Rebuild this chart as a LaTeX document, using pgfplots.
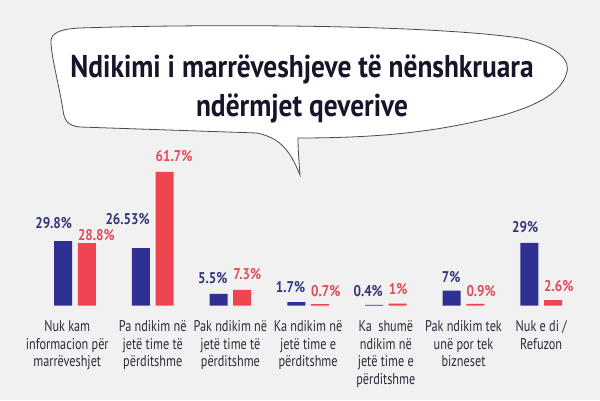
\documentclass[border=0pt]{standalone}
\usepackage{pgfplots}
\pgfplotsset{compat=1.18}
\usepackage{pgfplotstable}
\usepackage{fontspec}
\setmainfont{PT Sans}
\newfontfamily\labelfont[FakeStretch=0.79]{PT Sans}
\newfontfamily\valfont[FakeStretch=0.85]{PT Sans}
\newfontfamily\titlefont[FakeStretch=0.87]{PT Sans}
\definecolor{bgcol}{HTML}{F1F1F2}
\definecolor{barblue}{HTML}{2E3191}
\definecolor{barred}{HTML}{EF4550}
\definecolor{txtblue}{HTML}{32357A}
\definecolor{txtred}{HTML}{E24B57}
\definecolor{labcol}{HTML}{2B2B3B}
\definecolor{titlecol}{HTML}{16162A}
\definecolor{bubbleline}{HTML}{4A4A50}

\pgfplotstableread{
x y dy
0 29.8 12
1 26.53 23
2 5.5 10
3 1.7 9
4 0.4 8
5 7 7.5
6 29 10
}\bluedata
\pgfplotstableread{
x y dy
0 28.8 2
1 61.7 10
2 7.3 10
3 0.7 7.5
4 1 8.5
5 0.9 6.7
6 2.6 8.4
}\reddata

\begin{document}
\begin{tikzpicture}[x=1pt,y=1pt]
\fill[bgcol] (0,0) rectangle (600,400);
% speech bubble
\filldraw[fill=white, draw=bubbleline, line width=0.8pt]
  (51,357) .. controls (50,367) and (60,371) .. (80,372)
  .. controls (200,376) and (420,376) .. (520,362)
  .. controls (560,354) and (572,338) .. (566,325)
  .. controls (560,308) and (540,295) .. (500,284)
  .. controls (450,272) and (400,262) .. (298,262)
  .. controls (298,250) and (299,238) .. (300,225)
  .. controls (290,250) and (280,262) .. (257,267)
  -- (80,273) .. controls (68,274) and (64,280) .. (63,290)
  .. controls (58,320) and (52,340) .. (51,357) -- cycle;
\node[anchor=base, inner sep=0pt, text=titlecol, font=\titlefont\bfseries\fontsize{31.5}{36}\selectfont] at (302,323) {Ndikimi i marrëveshjeve të nënshkruara};
\node[anchor=base, inner sep=0pt, text=titlecol, font=\titlefont\bfseries\fontsize{31.5}{36}\selectfont] at (302,284) {ndërmjet qeverive};
\begin{axis}[
  at={(36.15pt,94.3pt)}, anchor=south west,
  scale only axis, width=543.9pt, height=151.9pt,
  xmin=-0.5, xmax=6.5, ymin=0, ymax=70,
  clip=false,
  axis line style={draw=none},
  major tick length=0pt,
  ytick=\empty,
  xtick={-0.1,1,2,3,4,5,6},
  xticklabels={
    {Nuk kam\\informacion për\\marrëveshjet},
    {Pa ndikim në\\jetë time të\\përditshme},
    {Pak ndikim në\\jetë time të\\përditshme},
    {Ka ndikim në\\jetë time e\\përditshme},
    {Ka\ \ shumë\\ndikim në\\jetë time e\\përditshme},
    {Pak ndikim tek\\unë por tek\\bizneset},
    {Nuk e di /\\Refuzon}},
  xticklabel style={align=center, anchor=north, inner sep=0pt, yshift=-15pt,
    text=labcol, font=\labelfont\fontsize{15.5}{17.5}\selectfont},
  ybar, bar width=18pt,
  visualization depends on={\thisrow{dy} \as \dy},
  point meta=explicit symbolic,
  nodes near coords={\pgfplotspointmeta\%},
]
\addplot[fill=barblue, draw=none, bar shift=-11.8pt,
  every node near coord/.append style={anchor=south east, xshift=9pt, inner sep=0pt,
    yshift=\dy pt, text=txtblue, font=\valfont\bfseries\fontsize{15.5}{17}\selectfont}]
  table[x=x, y=y, meta=y] {\bluedata};
\addplot[fill=barred, draw=none, bar shift=11.8pt,
  every node near coord/.append style={anchor=south west, xshift=-9pt, inner sep=0pt,
    yshift=\dy pt, text=txtred, font=\valfont\bfseries\fontsize{15.5}{17}\selectfont}]
  table[x=x, y=y, meta=y] {\reddata};
\end{axis}
\end{tikzpicture}
\end{document}
